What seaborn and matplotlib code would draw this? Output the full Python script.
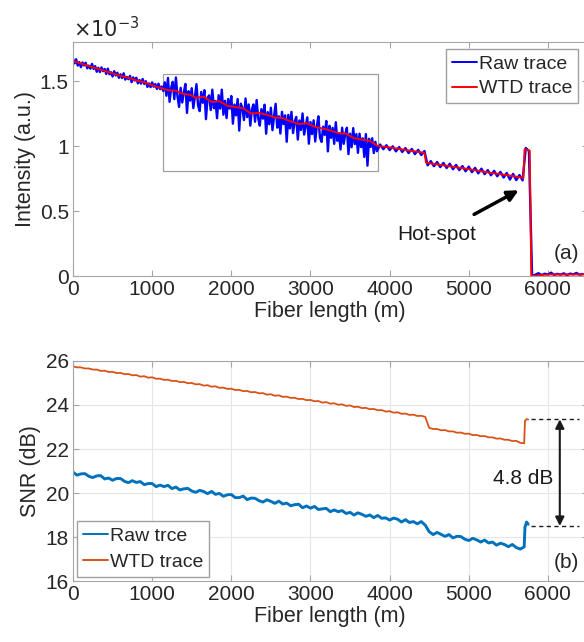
import numpy as np
import matplotlib
matplotlib.use("Agg")
import matplotlib.pyplot as plt
import seaborn as sns
from matplotlib.patches import Rectangle

# ---------------- panel (a): OTDR intensity (x 1e-3 a.u.) ----------------
# 0 - 3840 m sampled every 20 m
raw_near = [
    1.670, 1.636, 1.668, 1.619, 1.646, 1.607, 1.643, 1.620, 1.641, 1.598,
    1.619, 1.595, 1.632, 1.593, 1.615, 1.571, 1.602, 1.569, 1.605, 1.576,
    1.593, 1.554, 1.596, 1.552, 1.568, 1.535, 1.576, 1.543, 1.564, 1.525,
    1.552, 1.523, 1.560, 1.511, 1.532, 1.514, 1.540, 1.491, 1.528, 1.504,
    1.526, 1.482, 1.508, 1.480, 1.516, 1.478, 1.499, 1.455, 1.482, 1.453,
    1.490, 1.456, 1.477, 1.439, 1.480, 1.437, 1.458, 1.424,
    1.490, 1.387, 1.524, 1.340, 1.447, 1.494, 1.361, 1.528, 1.384, 1.301,
    1.448, 1.335, 1.412, 1.478, 1.255, 1.422, 1.349, 1.445, 1.292, 1.379,
    1.476, 1.313, 1.269, 1.416, 1.333, 1.430, 1.207, 1.373, 1.390, 1.277,
    1.434, 1.291, 1.347, 1.214, 1.391, 1.288, 1.434, 1.241, 1.348, 1.215,
    1.362, 1.288, 1.385, 1.172, 1.319, 1.236, 1.362, 1.119, 1.326, 1.293,
    1.200, 1.366, 1.223, 1.320, 1.157, 1.284, 1.320, 1.187, 1.354, 1.211,
    1.157, 1.284, 1.211, 1.318, 1.095, 1.261, 1.168, 1.295, 1.122, 1.229,
    1.325, 1.142, 1.229, 1.096, 1.263, 1.169, 1.236, 1.033, 1.240, 1.136,
    1.263, 1.100, 1.187, 1.224, 1.050, 1.197, 1.124, 1.251, 1.088, 1.154,
    1.221, 1.018, 1.185, 1.092, 1.198, 1.035, 1.152, 1.229, 1.065, 1.032,
    1.149, 1.086, 1.193, 0.959, 1.156, 1.063, 1.140, 1.017, 1.183, 1.040,
    1.097, 0.974, 1.141, 1.017, 1.094, 1.141, 0.938, 1.095, 0.991, 1.138,
    1.015, 1.092, 0.948, 1.095, 0.992, 1.059, 0.916, 1.092, 0.849, 1.056,
    0.993, 1.060, 0.946, 1.033, 0.960,
]
# 3880 - 6440 m sampled every 40 m
raw_far = [
    1.012, 0.976, 1.006, 0.969, 0.998, 0.959, 0.992, 0.954, 0.984, 0.946,
    0.978, 0.938, 0.971, 0.931, 0.962,
    0.852, 0.884, 0.845, 0.877, 0.838, 0.870, 0.831, 0.864, 0.822, 0.855,
    0.815, 0.846, 0.806, 0.842, 0.799, 0.832, 0.790, 0.826, 0.784, 0.815,
    0.775, 0.809, 0.768, 0.801, 0.758, 0.793, 0.742, 0.786, 0.738, 0.777,
    0.736,
    0.985, 0.962,
    0.002, 0.010, 0.022, 0.008, 0.018, 0.012, 0.026, 0.009, 0.017, 0.011,
    0.021, 0.007, 0.019, 0.013, 0.024, 0.010, 0.016,
]
wtd_x = [0, 200, 400, 600, 700, 800, 900, 1000, 1100, 1200, 1300, 1400, 1480,
         1550, 1650, 1750, 1850, 1950, 2050, 2150, 2250, 2350, 2450, 2550, 2650,
         2750, 2850, 2950, 3050, 3150, 3250, 3350, 3450, 3550, 3650, 3750, 3850,
         4000, 4200, 4440, 4460, 4700, 5000, 5300, 5500, 5690, 5705, 5770, 5790,
         6000, 6450]
wtd_trace = [1.655, 1.615, 1.578, 1.540, 1.525, 1.505, 1.490, 1.468, 1.448, 1.430,
             1.425, 1.400, 1.395, 1.370, 1.380, 1.340, 1.345, 1.310, 1.300, 1.290,
             1.250, 1.255, 1.240, 1.220, 1.215, 1.190, 1.170, 1.175, 1.150, 1.135,
             1.120, 1.100, 1.095, 1.060, 1.050, 1.040, 1.000, 0.990, 0.970, 0.948,
             0.872, 0.850, 0.822, 0.792, 0.775, 0.755, 0.975, 0.965, 0.000, 0.012,
             0.012]

# ---------------- panel (b): SNR (dB), sampled every 50 m up to 5700 m ----------------
snr_step = 50
snr_raw = [
    20.95, 20.81, 20.87, 20.88, 20.76, 20.70, 20.78, 20.79, 20.64, 20.68,
    20.58, 20.66, 20.66, 20.53, 20.47, 20.56, 20.48, 20.52, 20.38, 20.43,
    20.43, 20.29, 20.36, 20.29, 20.35, 20.20, 20.27, 20.14, 20.19, 20.21,
    20.09, 20.03, 20.12, 20.07, 19.97, 20.07, 19.94, 19.98, 19.85, 19.92,
    19.93, 19.79, 19.79, 19.86, 19.70, 19.77, 19.76, 19.65, 19.59, 19.69,
    19.62, 19.53, 19.63, 19.50, 19.54, 19.42, 19.47, 19.49, 19.33, 19.41,
    19.31, 19.39, 19.25, 19.28, 19.30, 19.15, 19.23, 19.15, 19.20, 19.07,
    19.12, 19.00, 19.10, 19.03, 18.94, 19.00, 18.88, 18.98, 18.85, 18.87,
    18.77, 18.86, 18.81, 18.68, 18.79, 18.66, 18.70, 18.60, 18.70, 18.54,
    18.24, 18.11, 18.21, 18.12, 18.03, 18.11, 17.96, 18.03, 18.02, 17.90,
    17.84, 17.94, 17.87, 17.77, 17.86, 17.73, 17.77, 17.63, 17.72, 17.66,
    17.56, 17.66, 17.52, 17.45, 17.55,
]
snr_wtd = [
    25.76, 25.71, 25.71, 25.66, 25.66, 25.61, 25.61, 25.55, 25.56, 25.50,
    25.51, 25.45, 25.46, 25.40, 25.41, 25.35, 25.36, 25.29, 25.31, 25.24,
    25.26, 25.19, 25.20, 25.14, 25.15, 25.09, 25.10, 25.04, 25.05, 24.99,
    25.00, 24.94, 24.95, 24.88, 24.90, 24.83, 24.85, 24.78, 24.79, 24.73,
    24.74, 24.68, 24.69, 24.63, 24.64, 24.58, 24.59, 24.53, 24.54, 24.47,
    24.49, 24.42, 24.44, 24.37, 24.38, 24.32, 24.33, 24.27, 24.28, 24.22,
    24.23, 24.17, 24.18, 24.11, 24.13, 24.06, 24.08, 24.01, 24.03, 23.96,
    23.98, 23.91, 23.92, 23.86, 23.87, 23.81, 23.82, 23.76, 23.77, 23.70,
    23.72, 23.65, 23.67, 23.60, 23.61, 23.55, 23.56, 23.50, 23.51, 23.46,
    22.96, 22.91, 22.91, 22.85, 22.86, 22.80, 22.80, 22.74, 22.75, 22.69,
    22.70, 22.63, 22.64, 22.58, 22.59, 22.53, 22.53, 22.47, 22.48, 22.42,
    22.42, 22.36, 22.37, 22.28, 22.26,
]
hs_x = [5710, 5730, 5750]
hs_raw = [18.45, 18.68, 18.58]
hs_wtd = [23.28, 23.36, 23.34]

snr_top, snr_bottom = 23.35, 18.5

# ---------------- build arrays ----------------
raw_x = np.concatenate([np.arange(len(raw_near)) * 20,
                        3880 + np.arange(len(raw_far)) * 40])
raw_trace = np.concatenate([raw_near, raw_far])
snr_x = np.concatenate([np.arange(len(snr_raw)) * snr_step, hs_x])
snr_raw_all = np.concatenate([snr_raw, hs_raw])
snr_wtd_all = np.concatenate([snr_wtd, hs_wtd])

sns.set_theme(style="ticks")
plt.rcParams['font.family'] = ['Liberation Sans', 'DejaVu Sans']
plt.rcParams['axes.edgecolor'] = '#a6a6a6'
plt.rcParams['xtick.color'] = '#a6a6a6'
plt.rcParams['ytick.color'] = '#a6a6a6'
plt.rcParams['xtick.labelcolor'] = '#262626'
plt.rcParams['ytick.labelcolor'] = '#262626'

FS = 15
fig = plt.figure(figsize=(5.84, 6.42), dpi=100)
ax1 = fig.add_axes([0.125, 0.570, 0.881, 0.3645])
ax2 = fig.add_axes([0.125, 0.095, 0.881, 0.3427])

# panel (a)
sns.lineplot(x=raw_x, y=raw_trace, ax=ax1, color='#0000ff', lw=1.7,
             estimator=None, label='Raw trace')
sns.lineplot(x=wtd_x, y=wtd_trace, ax=ax1, color='#ff0000', lw=1.4,
             estimator=None, label='WTD trace')
ax1.add_patch(Rectangle((1140, 0.81), 2710, 0.745, fill=False,
                        edgecolor='#a0a0a0', lw=0.9))
ax1.set_xlim(0, 6500)
ax1.set_ylim(0, 1.8)
ax1.set_xticks(range(0, 7000, 1000))
ax1.set_yticks([0, 0.5, 1, 1.5])
ax1.set_yticklabels(['0', '0.5', '1', '1.5'])
ax1.set_xlabel('Fiber length (m)', fontsize=FS + 0.5, color='#262626', labelpad=1)
ax1.set_ylabel('Intensity (a.u.)', fontsize=FS + 0.5, color='#262626', labelpad=3)
ax1.text(0, 1.005, r'$\times10^{-3}$', transform=ax1.transAxes, fontsize=FS,
         color='#262626', ha='left', va='bottom')
ax1.annotate('Hot-spot', xy=(5630, 0.66), xytext=(4600, 0.32),
             fontsize=FS, ha='center', va='center', color='#1a1a1a',
             arrowprops=dict(arrowstyle='-|>', lw=2.5, color='black',
                             mutation_scale=16, shrinkA=11, shrinkB=0))
ax1.text(6230, 0.17, '(a)', fontsize=FS, ha='center', va='center', color='#262626')
leg1 = ax1.legend(loc='upper right', bbox_to_anchor=(0.99, 0.985), fontsize=FS - 1,
                  frameon=True, fancybox=False, edgecolor='#a0a0a0', framealpha=1,
                  handlelength=1.3, handletextpad=0.1, borderpad=0.3,
                  labelspacing=0.35, borderaxespad=0.2)

# panel (b)
sns.lineplot(x=snr_x, y=snr_raw_all, ax=ax2, color='#0072bd', lw=2.1,
             estimator=None, label='Raw trce')
sns.lineplot(x=snr_x, y=snr_wtd_all, ax=ax2, color='#d95319', lw=1.3,
             estimator=None, label='WTD trace')
ax2.hlines([snr_top, snr_bottom], 5780, 6390, colors='#1a1a1a',
           linestyles=(0, (3, 2.5)), lw=1)
ax2.annotate('', xy=(6150, snr_top), xytext=(6150, snr_bottom),
             arrowprops=dict(arrowstyle='<|-|>', lw=1.5, color='#1a1a1a',
                             mutation_scale=13, shrinkA=0, shrinkB=0))
ax2.text(5690, 20.65, '4.8 dB', fontsize=FS, ha='center', va='center', color='#1a1a1a')
ax2.text(6230, 16.85, '(b)', fontsize=FS, ha='center', va='center', color='#262626')
ax2.set_xlim(0, 6500)
ax2.set_ylim(16, 26)
ax2.set_xticks(range(0, 7000, 1000))
ax2.set_yticks(range(16, 27, 2))
ax2.grid(True, color='#e6e6e6', lw=0.8)
ax2.set_axisbelow(True)
ax2.set_xlabel('Fiber length (m)', fontsize=FS + 0.5, color='#262626', labelpad=1)
ax2.set_ylabel('SNR (dB)', fontsize=FS + 0.5, color='#262626', labelpad=3)
leg2 = ax2.legend(loc='lower left', fontsize=FS - 1, frameon=True, fancybox=False,
                  edgecolor='#a0a0a0', framealpha=1, handlelength=1.3,
                  handletextpad=0.1, borderpad=0.3, labelspacing=0.45,
                  borderaxespad=0.2)

for leg in (leg1, leg2):
    for h in leg.get_lines():
        h.set_linewidth(1.4)

for ax in (ax1, ax2):
    ax.tick_params(direction='in', top=True, right=True, length=4, width=0.8,
                   labelsize=FS, pad=3)
    for s in ax.spines.values():
        s.set_visible(True)
        s.set_linewidth(0.8)

fig.savefig('out.png', dpi=100)
